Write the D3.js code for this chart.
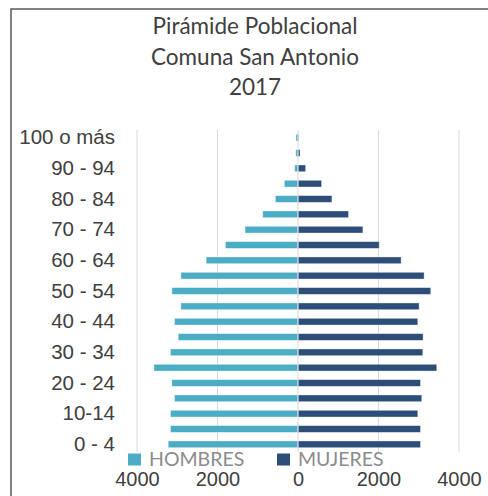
<!DOCTYPE html>
<html>
<head>
<meta charset="utf-8">
<script src="https://cdn.jsdelivr.net/npm/d3@7"></script>
<style>
  html, body { margin: 0; padding: 0; background: #fff; }
  svg { display: block; font-family: Lato, "Open Sans", sans-serif; }
</style>
</head>
<body>
<svg id="chart" width="488" height="496"></svg>
<script>
// ---- data (bottom to top) ----
const categories = ["0 - 4","5 - 9","10-14","15 - 19","20 - 24","25 - 29","30 - 34","35 - 39","40 - 44","45 - 49","50 - 54","55 - 59","60 - 64","65 - 69","70 - 74","75 - 79","80 - 84","85 - 89","90 - 94","95 - 99","100 o más"];
const hombres = [3224, 3167, 3167, 3068, 3133, 3579, 3167, 2976, 3068, 2910, 3133, 2910, 2282, 1802, 1315, 876, 563, 340, 80, 55, 50];
const mujeres = [3043, 3043, 2976, 3075, 3043, 3447, 3100, 3108, 2976, 3009, 3298, 3133, 2562, 2017, 1612, 1256, 843, 587, 190, 50, 15];
const seriesNames = ["HOMBRES", "MUJERES"];
const titleLines = ["Pirámide Poblacional", "Comuna San Antonio", "2017"];
const xTicks = [-4000, -2000, 0, 2000, 4000];

// ---- styles ----
const colHombres = "#4BACC6";
const colMujeres = "#2D4E78";
const textCol = "#404040";

const svg = d3.select("#chart");

// frame
svg.append("rect").attr("x", 11).attr("y", 9).attr("width", 500).attr("height", 500)
  .attr("fill", "none").attr("stroke", "#595959").attr("stroke-width", 1.5);

// title
svg.append("g").selectAll("text").data(titleLines).join("text")
  .attr("x", 255).attr("y", (d, i) => 34 + i * 30.5)
  .attr("text-anchor", "middle").attr("font-size", 22.5).attr("fill", textCol)
  .text(d => d);

const x = d3.scaleLinear().domain([-4000, 4000]).range([137, 459]);
const y = d3.scaleBand().domain(categories.slice().reverse()).range([130, 452]).paddingInner(0.56).paddingOuter(0.28);

// gridlines
svg.append("g").selectAll("line").data(xTicks.filter(d => d !== 0)).join("line")
  .attr("x1", d => x(d)).attr("x2", d => x(d)).attr("y1", 130).attr("y2", 452)
  .attr("stroke", "#d9d9d9").attr("stroke-width", 1);

// bars
const rows = categories.map((c, i) => ({ c, h: hombres[i], m: mujeres[i] }));
svg.append("g").selectAll("rect").data(rows).join("rect")
  .attr("x", d => x(-d.h)).attr("width", d => x(0) - x(-d.h))
  .attr("y", d => y(d.c)).attr("height", y.bandwidth())
  .attr("fill", colHombres).attr("stroke", "#ffffff").attr("stroke-opacity", 0.5).attr("stroke-width", 0.75);
svg.append("g").selectAll("rect").data(rows).join("rect")
  .attr("x", x(0)).attr("width", d => x(d.m) - x(0))
  .attr("y", d => y(d.c)).attr("height", y.bandwidth())
  .attr("fill", colMujeres).attr("stroke", "#ffffff").attr("stroke-opacity", 0.5).attr("stroke-width", 0.75);

// zero axis line
svg.append("line").attr("x1", x(0)).attr("x2", x(0)).attr("y1", 130).attr("y2", 452)
  .attr("stroke", "#d9d9d9").attr("stroke-width", 1);

// y axis labels
const yAxis = d3.axisLeft(y).tickSize(0).tickPadding(0)
  .tickValues(categories.filter((c, i) => i % 2 === 0));
const gy = svg.append("g").attr("transform", "translate(115,0)").call(yAxis);
gy.select(".domain").remove();
gy.selectAll("text").attr("font-size", 20.5).attr("fill", textCol).attr("font-family", null);

// x axis labels
const xAxis = d3.axisBottom(x).tickValues(xTicks).tickSize(0).tickPadding(0)
  .tickFormat(d => String(Math.abs(d)));
const gx = svg.append("g").attr("transform", "translate(0,472)").call(xAxis);
gx.select(".domain").remove();
gx.selectAll("text").attr("font-size", 20).attr("fill", textCol).attr("font-family", null).attr("dy", "0.71em");

// legend
const legend = [
  { name: seriesNames[0], col: colHombres, x: 128 },
  { name: seriesNames[1], col: colMujeres, x: 277 }
];
const lg = svg.append("g").selectAll("g").data(legend).join("g")
  .attr("transform", d => `translate(${d.x},452)`);
lg.append("rect").attr("width", 13).attr("height", 12).attr("y", 1.5).attr("fill", d => d.col);
lg.append("text").attr("x", 21).attr("y", 13.5).attr("font-size", 19.5).attr("fill", "#8c8c8c").text(d => d.name);
</script>
</body>
</html>
